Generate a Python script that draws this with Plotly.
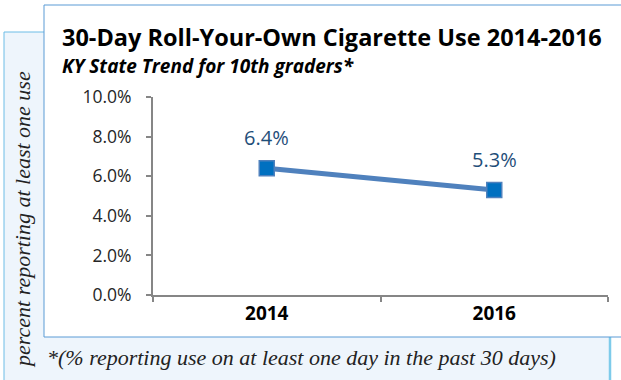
import plotly.graph_objects as go

years = ["2014", "2016"]
rates = [0.064, 0.053]
y_ticks = [0.0, 0.02, 0.04, 0.06, 0.08, 0.10]

title_text = "30-Day Roll-Your-Own Cigarette Use 2014-2016"
subtitle_text = "KY State Trend for 10th graders*"
y_title = "percent reporting at least one use"
footnote = "*(% reporting use on at least one day in the past 30 days)"

W, H = 621, 380
L, R, T, B = 153, 13, 97, 85
PW, PH = W - L - R, H - T - B


def px(x):
    return (x - L) / PW


def py(y):
    return (H - B - y) / PH


fig = go.Figure()

fig.add_trace(
    go.Scatter(
        x=years,
        y=rates,
        mode="lines+markers",
        line={"color": "#4F81BD", "width": 5},
        marker={"symbol": "square", "size": 15, "color": "#0070C0",
                "line": {"color": "#4F81BD", "width": 1.5}},
        hoverinfo="skip",
        showlegend=False,
    )
)

# data labels above the markers
for i, v in enumerate(rates):
    fig.add_annotation(
        x=i, y=v, text=f"{v:.1%}", showarrow=False, yshift=31,
        font={"family": "Open Sans", "size": 20, "color": "#1F4E79"},
    )

shapes = [
    # outer light-blue panel
    dict(type="rect", xref="paper", yref="paper", layer="below",
         x0=px(4), x1=px(610), y0=py(390), y1=py(32),
         fillcolor="#EEF5FC", line={"color": "#6DBDE6", "width": 1}),
    dict(type="line", xref="paper", yref="paper", layer="below",
         x0=px(610), x1=px(610), y0=py(390), y1=py(32),
         line={"color": "#7ECBEA", "width": 2.5}),
    # white chart box
    dict(type="rect", xref="paper", yref="paper", layer="below",
         x0=px(44), x1=px(630), y0=py(337), y1=py(5),
         fillcolor="white", line={"color": "#5B9BD5", "width": 1}),
]

fig.add_annotation(
    xref="paper", yref="paper", x=px(60), y=py(37), xanchor="left", yanchor="middle",
    text=f"<b>{title_text}</b>", showarrow=False,
    font={"family": "Open Sans", "size": 23.5, "color": "black"},
)
fig.add_annotation(
    xref="paper", yref="paper", x=px(60), y=py(66), xanchor="left", yanchor="middle",
    text=f"<b><i>{subtitle_text}</i></b>", showarrow=False,
    font={"family": "Open Sans", "size": 19, "color": "black"},
)
fig.add_annotation(
    xref="paper", yref="paper", x=px(22), y=py(220), xanchor="center", yanchor="middle",
    text=f"<i>{y_title}</i>", textangle=-90, showarrow=False,
    font={"family": "Liberation Serif", "size": 22, "color": "#222222"},
)
fig.add_annotation(
    xref="paper", yref="paper", x=px(45), y=py(357), xanchor="left", yanchor="middle",
    text=f"<i>{footnote}</i>", showarrow=False,
    font={"family": "Liberation Serif", "size": 22, "color": "#222222"},
)

fig.update_layout(
    width=W,
    height=H,
    margin={"l": L, "r": R, "t": T, "b": B},
    paper_bgcolor="white",
    plot_bgcolor="rgba(0,0,0,0)",
    shapes=shapes,
    showlegend=False,
    xaxis={
        "type": "category",
        "range": [-0.5, 1.5],
        "autorange": False,
        "showgrid": False,
        "showline": True,
        "linecolor": "#868686",
        "linewidth": 2,
        "ticks": "outside",
        "tickson": "boundaries",
        "ticklen": 5,
        "tickcolor": "#868686",
        "tickwidth": 2,
        "tickangle": 0,
        "tickfont": {"family": "Open Sans", "size": 19, "color": "black", "weight": "bold"},
    },
    yaxis={
        "range": [0, 0.10],
        "autorange": False,
        "tickvals": y_ticks,
        "tickformat": ".1%",
        "showgrid": False,
        "zeroline": False,
        "showline": True,
        "linecolor": "#868686",
        "linewidth": 2,
        "ticks": "outside",
        "ticklen": 5,
        "tickcolor": "#868686",
        "tickwidth": 2,
        "ticklabelstandoff": 11,
        "tickfont": {"family": "Open Sans", "size": 17.5, "color": "#262626"},
    },
)

fig.write_html(
    "out.html",
    config={"displayModeBar": False},
    post_script="document.body.style.margin='0';",
)
